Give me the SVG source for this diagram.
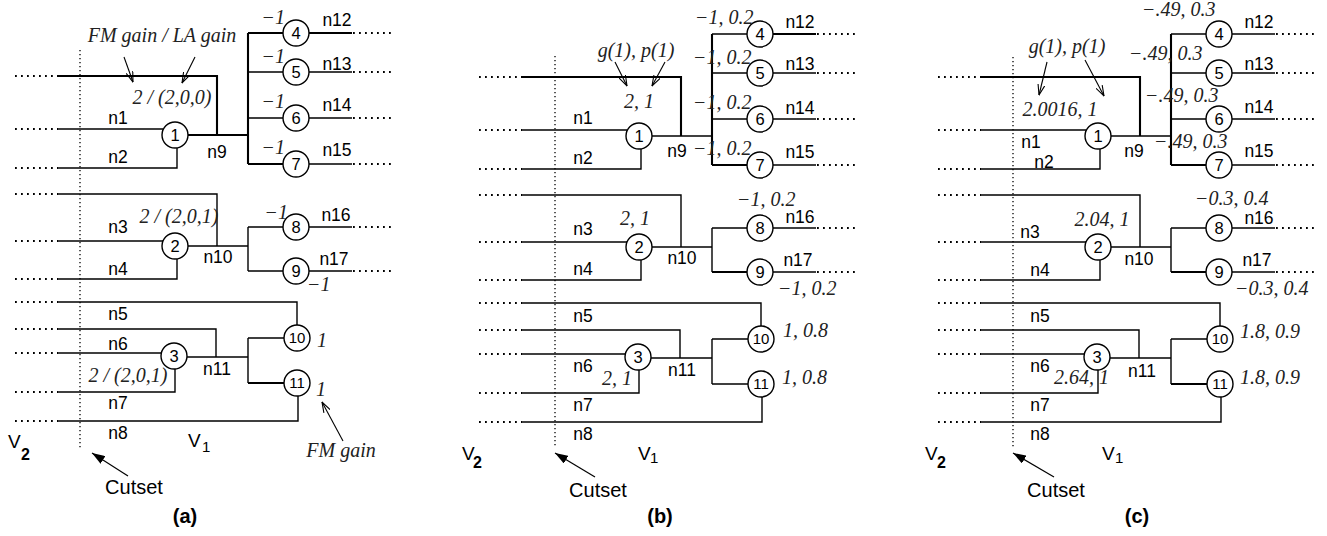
<svg xmlns="http://www.w3.org/2000/svg" width="1327" height="536" viewBox="0 0 1327 536">
<style>
.ln path{stroke:#000;stroke-width:1.4;fill:none}
.ln path.th{stroke-width:2.1}
.ln path.dot{stroke-width:1.8;stroke-dasharray:1.8 4.2}
.cut{stroke:#000;stroke-width:1.3;stroke-dasharray:1.3 2.7;fill:none}
.nd circle{fill:#fff;stroke:#000;stroke-width:1.4}
.nd text{font-family:"Liberation Sans",Arial,sans-serif;font-size:16.5px;text-anchor:middle;fill:#000}
.nd text.w{font-size:15px}
.lb{font-family:"Liberation Sans",Arial,sans-serif;font-size:17.5px;text-anchor:middle;fill:#000}
.big{font-family:"Liberation Sans",Arial,sans-serif;font-size:19px;fill:#000}
.sub{font-family:"Liberation Sans",Arial,sans-serif;font-size:15px;fill:#000}
.sub.b{font-size:16px;font-weight:bold}
.cap{font-family:"Liberation Sans",Arial,sans-serif;font-size:20px;font-weight:bold;text-anchor:middle;fill:#000}
.it{font-family:"Liberation Serif","Times New Roman",serif;font-style:italic;font-size:20px;fill:#222}
.m{text-anchor:middle}
.e{text-anchor:end}
.ar{stroke:#000;stroke-width:1.1;fill:none;marker-end:url(#ov)}
.ca{stroke:#000;stroke-width:1.2;fill:none;marker-end:url(#fl)}
</style>
<defs>
<marker id="ov" viewBox="0 0 11 8" refX="10.5" refY="4" markerWidth="11" markerHeight="8" orient="auto" markerUnits="userSpaceOnUse">
<path d="M0,0.5 L10.5,4 L0,7.5" fill="none" stroke="#000" stroke-width="1.1"/>
</marker>
<marker id="fl" viewBox="0 0 13 9" refX="13" refY="4.5" markerWidth="13" markerHeight="9" orient="auto" markerUnits="userSpaceOnUse">
<path d="M0,0 L13,4.5 L0,9 Z" fill="#000"/>
</marker>
</defs>
<rect width="1327" height="536" fill="#fff"/>

<!-- ================= PANEL A ================= -->
<g id="panel-a">
<g id="a-connectors" class="ln">
<path class="th" d="M58,76H217V135"/>
<path d="M58,129H163"/>
<path d="M58,168H177V148"/>
<path class="th" d="M188,135H248"/>
<path class="th" d="M248,33V164"/>
<path class="th" d="M248,33H283"/>
<path d="M248,72H283M248,118H283"/>
<path class="th" d="M248,164H283"/>
<path class="th" d="M309,33H352"/>
<path d="M309,72H352M309,118H352M309,164H352"/>
<path d="M58,194H217V246"/>
<path d="M58,241H163"/>
<path d="M58,279H177V259"/>
<path d="M188,246H248"/>
<path d="M248,227V271M248,227H283M248,271H283"/>
<path d="M309,227H352M309,271H352"/>
<path d="M58,302H297V325"/>
<path d="M58,329H216V357"/>
<path d="M58,353H162"/>
<path d="M58,392H175V369"/>
<path d="M58,421H298V396"/>
<path d="M187,357H248"/>
<path d="M248,338V383M248,338H284"/>
<path class="th" d="M248,383H284"/>
<path class="dot" d="M15,76H58M15,129H58M15,168H58M15,194H58M15,241H58M15,279H58M15,302H58M15,329H58M15,353H58M15,392H58M15,421H58"/>
<path class="dot" d="M353,33H394M353,72H394M353,118H394M353,164H394M353,227H394M353,271H394"/>
</g>
<path class="cut" d="M80,50V448"/>
<g id="a-node1" class="nd"><circle cx="175" cy="135" r="13"/><text x="175" y="140.9">1</text></g>
<g id="a-node2" class="nd"><circle cx="175" cy="246" r="13"/><text x="175" y="251.9">2</text></g>
<g id="a-node3" class="nd"><circle cx="174" cy="356" r="13"/><text x="174" y="361.9">3</text></g>
<g id="a-node4" class="nd"><circle cx="296" cy="33" r="13"/><text x="296" y="38.9">4</text></g>
<g id="a-node5" class="nd"><circle cx="296" cy="72" r="13"/><text x="296" y="77.9">5</text></g>
<g id="a-node6" class="nd"><circle cx="296" cy="118" r="13"/><text x="296" y="123.9">6</text></g>
<g id="a-node7" class="nd"><circle cx="296" cy="164" r="13"/><text x="296" y="169.9">7</text></g>
<g id="a-node8" class="nd"><circle cx="296" cy="227" r="13"/><text x="296" y="232.9">8</text></g>
<g id="a-node9" class="nd"><circle cx="296" cy="271" r="13"/><text x="296" y="276.9">9</text></g>
<g id="a-node10" class="nd"><circle cx="297" cy="338" r="13"/><text class="w" x="297" y="343.4">10</text></g>
<g id="a-node11" class="nd"><circle cx="297" cy="383" r="13"/><text class="w" x="297" y="388.4">11</text></g>
<g id="a-labels">
<text class="lb" x="118" y="124">n1</text>
<text class="lb" x="118" y="163">n2</text>
<text class="lb" x="118" y="233">n3</text>
<text class="lb" x="118" y="275">n4</text>
<text class="lb" x="118" y="320">n5</text>
<text class="lb" x="118" y="350">n6</text>
<text class="lb" x="118" y="409">n7</text>
<text class="lb" x="118" y="439">n8</text>
<text class="lb" x="217" y="158">n9</text>
<text class="lb" x="218" y="263">n10</text>
<text class="lb" x="217" y="375">n11</text>
<text class="lb" x="337" y="26">n12</text>
<text class="lb" x="337" y="70">n13</text>
<text class="lb" x="337" y="111">n14</text>
<text class="lb" x="337" y="156">n15</text>
<text class="lb" x="336" y="221">n16</text>
<text class="lb" x="334" y="265">n17</text>
<text class="it m" x="162" y="42">FM gain / LA gain</text>
<text class="it m" x="172" y="104">2 / (2,0,0)</text>
<text class="it m" x="179" y="223">2 / (2,0,1)</text>
<text class="it m" x="128" y="382">2 / (2,0,1)</text>
<text class="it e" x="285" y="24">−1</text>
<text class="it e" x="285" y="63">−1</text>
<text class="it e" x="285" y="108">−1</text>
<text class="it e" x="285" y="154">−1</text>
<text class="it e" x="288" y="219">−1</text>
<text class="it" x="307" y="291">−1</text>
<text class="it" x="317" y="347">1</text>
<text class="it" x="316" y="396">1</text>
<text class="it m" x="341" y="457">FM gain</text>
<text class="big" x="8" y="448">V</text><text class="sub b" x="21" y="460">2</text>
<text class="big" x="188" y="447">V</text><text class="sub" x="202" y="452">1</text>
<text class="lb" x="134" y="494" style="font-size:20px">Cutset</text>
<text class="cap" x="185" y="523">(a)</text>
</g>
<g id="a-arrows">
<path class="ar" d="M124,57L133,82"/>
<path class="ar" d="M195,57L182,83"/>
<path class="ar" d="M343,441L322,402"/>
<path class="ca" d="M128,476L92,453"/>
</g>
</g>

<!-- ================= PANEL B ================= -->
<g id="panel-b" transform="translate(464,1)">
<g id="b-connectors" class="ln">
<path class="th" d="M58,76H217V135"/>
<path d="M58,129H163"/>
<path d="M58,168H177V148"/>
<path d="M188,135H248"/>
<path class="th" d="M248,33V164"/>
<path d="M248,33H283M248,72H283M248,118H283"/>
<path class="th" d="M248,164H283"/>
<path class="th" d="M309,33H352"/>
<path d="M309,72H352M309,118H352M309,164H352"/>
<path d="M58,194H217V246"/>
<path d="M58,241H163"/>
<path d="M58,279H177V259"/>
<path d="M188,246H248"/>
<path d="M248,227V271M248,227H283"/>
<path class="th" d="M248,271H283"/>
<path d="M309,227H352M309,271H352"/>
<path d="M58,302H297V325"/>
<path d="M58,329H216V357"/>
<path d="M58,353H162"/>
<path d="M58,392H175V369"/>
<path d="M58,421H298V396"/>
<path d="M187,357H248"/>
<path d="M248,338V383M248,338H284M248,383H284"/>
<path class="dot" d="M15,76H58M15,129H58M15,168H58M15,194H58M15,241H58M15,279H58M15,302H58M15,329H58M15,353H58M15,392H58M15,421H58"/>
<path class="dot" d="M353,33H394M353,72H394M353,118H394M353,164H394M353,227H394M353,271H394"/>
</g>
<path class="cut" d="M91,55V447"/>
<g id="b-node1" class="nd"><circle cx="175" cy="135" r="13"/><text x="175" y="140.9">1</text></g>
<g id="b-node2" class="nd"><circle cx="175" cy="246" r="13"/><text x="175" y="251.9">2</text></g>
<g id="b-node3" class="nd"><circle cx="174" cy="356" r="13"/><text x="174" y="361.9">3</text></g>
<g id="b-node4" class="nd"><circle cx="296" cy="33" r="13"/><text x="296" y="38.9">4</text></g>
<g id="b-node5" class="nd"><circle cx="296" cy="72" r="13"/><text x="296" y="77.9">5</text></g>
<g id="b-node6" class="nd"><circle cx="296" cy="118" r="13"/><text x="296" y="123.9">6</text></g>
<g id="b-node7" class="nd"><circle cx="296" cy="164" r="13"/><text x="296" y="169.9">7</text></g>
<g id="b-node8" class="nd"><circle cx="296" cy="227" r="13"/><text x="296" y="232.9">8</text></g>
<g id="b-node9" class="nd"><circle cx="296" cy="271" r="13"/><text x="296" y="276.9">9</text></g>
<g id="b-node10" class="nd"><circle cx="297" cy="338" r="13"/><text class="w" x="297" y="343.4">10</text></g>
<g id="b-node11" class="nd"><circle cx="297" cy="383" r="13"/><text class="w" x="297" y="388.4">11</text></g>
<g id="b-labels">
<text class="lb" x="119" y="123">n1</text>
<text class="lb" x="119" y="163">n2</text>
<text class="lb" x="119" y="234">n3</text>
<text class="lb" x="119" y="274">n4</text>
<text class="lb" x="119" y="321">n5</text>
<text class="lb" x="119" y="371">n6</text>
<text class="lb" x="119" y="410">n7</text>
<text class="lb" x="119" y="439">n8</text>
<text class="lb" x="213" y="156">n9</text>
<text class="lb" x="218" y="263">n10</text>
<text class="lb" x="218" y="375">n11</text>
<text class="lb" x="336" y="27">n12</text>
<text class="lb" x="336" y="69">n13</text>
<text class="lb" x="336" y="113">n14</text>
<text class="lb" x="336" y="157">n15</text>
<text class="lb" x="336" y="222">n16</text>
<text class="lb" x="334" y="265">n17</text>
<text class="it m" x="172" y="56">g(1), p(1)</text>
<text class="it m" x="175" y="107">2, 1</text>
<text class="it" x="231" y="23">−1, 0.2</text>
<text class="it" x="229" y="63">−1, 0.2</text>
<text class="it" x="229" y="108">−1, 0.2</text>
<text class="it" x="229" y="154">−1, 0.2</text>
<text class="it" x="273" y="205">−1, 0.2</text>
<text class="it" x="314" y="294">−1, 0.2</text>
<text class="it" x="319" y="336">1, 0.8</text>
<text class="it" x="318" y="383">1, 0.8</text>
<text class="it" x="156" y="224">2, 1</text>
<text class="it" x="138" y="384">2, 1</text>
<text class="big" x="-2" y="459">V</text><text class="sub b" x="9" y="467">2</text>
<text class="big" x="174" y="459">V</text><text class="sub" x="186" y="462">1</text>
<text class="lb" x="134" y="496" style="font-size:20px">Cutset</text>
<text class="cap" x="196" y="522">(b)</text>
</g>
<g id="b-arrows">
<path class="ar" d="M151,61L163,85"/>
<path class="ar" d="M201,61L188,85"/>
<path class="ca" d="M131,476L91,452"/>
</g>
</g>

<!-- ================= PANEL C ================= -->
<g id="panel-c" transform="translate(923,1)">
<g id="c-connectors" class="ln">
<path class="th" d="M58,76H217V135"/>
<path d="M58,129H163"/>
<path d="M58,168H177V148"/>
<path d="M188,135H248"/>
<path class="th" d="M248,33V164"/>
<path d="M248,33H283M248,72H283M248,118H283"/>
<path class="th" d="M248,164H283"/>
<path d="M309,33H352M309,72H352M309,118H352M309,164H352"/>
<path d="M58,194H217V246"/>
<path d="M58,241H163"/>
<path d="M58,279H177V259"/>
<path d="M188,246H248"/>
<path d="M248,227V271M248,227H283"/>
<path class="th" d="M248,271H283"/>
<path d="M309,227H352M309,271H352"/>
<path d="M58,302H297V325"/>
<path d="M58,329H216V357"/>
<path d="M58,353H162"/>
<path d="M58,392H175V369"/>
<path d="M58,421H298V396"/>
<path d="M187,357H248"/>
<path d="M248,338V383M248,338H284"/>
<path class="th" d="M248,383H284"/>
<path class="dot" d="M15,76H58M15,129H58M15,168H58M15,194H58M15,241H58M15,279H58M15,302H58M15,329H58M15,353H58M15,392H58M15,421H58"/>
<path class="dot" d="M353,33H394M353,72H394M353,118H394M353,164H394M353,227H394M353,271H394"/>
</g>
<path class="cut" d="M90,56V448"/>
<g id="c-node1" class="nd"><circle cx="175" cy="135" r="13"/><text x="175" y="140.9">1</text></g>
<g id="c-node2" class="nd"><circle cx="175" cy="246" r="13"/><text x="175" y="251.9">2</text></g>
<g id="c-node3" class="nd"><circle cx="174" cy="356" r="13"/><text x="174" y="361.9">3</text></g>
<g id="c-node4" class="nd"><circle cx="296" cy="33" r="13"/><text x="296" y="38.9">4</text></g>
<g id="c-node5" class="nd"><circle cx="296" cy="72" r="13"/><text x="296" y="77.9">5</text></g>
<g id="c-node6" class="nd"><circle cx="296" cy="118" r="13"/><text x="296" y="123.9">6</text></g>
<g id="c-node7" class="nd"><circle cx="296" cy="164" r="13"/><text x="296" y="169.9">7</text></g>
<g id="c-node8" class="nd"><circle cx="296" cy="227" r="13"/><text x="296" y="232.9">8</text></g>
<g id="c-node9" class="nd"><circle cx="296" cy="271" r="13"/><text x="296" y="276.9">9</text></g>
<g id="c-node10" class="nd"><circle cx="297" cy="338" r="13"/><text class="w" x="297" y="343.4">10</text></g>
<g id="c-node11" class="nd"><circle cx="297" cy="383" r="13"/><text class="w" x="297" y="388.4">11</text></g>
<g id="c-labels">
<text class="lb" x="108" y="147">n1</text>
<text class="lb" x="121" y="167">n2</text>
<text class="lb" x="107" y="237">n3</text>
<text class="lb" x="117" y="275">n4</text>
<text class="lb" x="117" y="321">n5</text>
<text class="lb" x="117" y="371">n6</text>
<text class="lb" x="117" y="410">n7</text>
<text class="lb" x="117" y="439">n8</text>
<text class="lb" x="211" y="156">n9</text>
<text class="lb" x="216" y="264">n10</text>
<text class="lb" x="219" y="376">n11</text>
<text class="lb" x="336" y="27">n12</text>
<text class="lb" x="336" y="69">n13</text>
<text class="lb" x="336" y="112">n14</text>
<text class="lb" x="336" y="156">n15</text>
<text class="lb" x="336" y="223">n16</text>
<text class="lb" x="334" y="265">n17</text>
<text class="it m" x="144" y="52">g(1), p(1)</text>
<text class="it m" x="137" y="115">2.0016, 1</text>
<text class="it" x="219" y="15">−.49, 0.3</text>
<text class="it" x="206" y="59">−.49, 0.3</text>
<text class="it" x="222" y="101">−.49, 0.3</text>
<text class="it" x="231" y="147">−.49, 0.3</text>
<text class="it" x="272" y="204">−0.3, 0.4</text>
<text class="it" x="312" y="294">−0.3, 0.4</text>
<text class="it" x="317" y="337">1.8, 0.9</text>
<text class="it" x="317" y="383">1.8, 0.9</text>
<text class="it m" x="179" y="225">2.04, 1</text>
<text class="it" x="131" y="383">2.64, 1</text>
<text class="big" x="2" y="459">V</text><text class="sub b" x="14" y="467">2</text>
<text class="big" x="179" y="459">V</text><text class="sub" x="192" y="462">1</text>
<text class="lb" x="133" y="496" style="font-size:20px">Cutset</text>
<text class="cap" x="214" y="522">(c)</text>
</g>
<g id="c-arrows">
<path class="ar" d="M124,61L116,94"/>
<path class="ar" d="M162,59L181,95"/>
<path class="ca" d="M131,476L90,452"/>
</g>
</g>
</svg>
